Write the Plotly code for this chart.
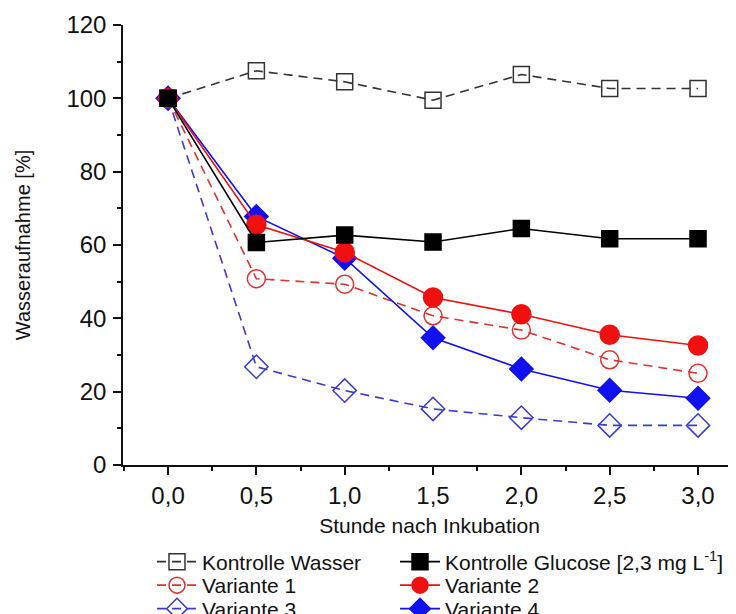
import plotly.graph_objects as go

hours = [0.0, 0.5, 1.0, 1.5, 2.0, 2.5, 3.0]
kontrolle_wasser = [100, 107.5, 104.5, 99.5, 106.5, 102.7, 102.7]
kontrolle_glucose = [100, 60.7, 62.7, 60.8, 64.5, 61.7, 61.7]
variante_1 = [100, 50.8, 49.3, 40.7, 36.8, 28.7, 25.0]
variante_2 = [100, 65.5, 58.0, 45.7, 41.1, 35.5, 32.6]
variante_3 = [100, 26.8, 20.3, 15.3, 12.9, 10.8, 10.8]
variante_4 = [100, 67.8, 56.4, 34.7, 26.2, 20.4, 18.2]

RED = "#f01010"
BLUE = "#1010f0"
BLUE_L = "#3a3ad4"

# page is rendered with an 8px body margin, figure sized to fit the window
W, H = 728, 606

series = [
    # name, values, color, dashed, symbol, size, legend id
    ("Variante 3", variante_3, BLUE_L, True, "diamond-open", 18, "legend5"),
    ("Variante 1", variante_1, "#e03030", True, "circle-open", 18, "legend3"),
    ("Kontrolle Wasser", kontrolle_wasser, "#333333", True, "square-open", 16, "legend"),
    ("Variante 4", variante_4, BLUE, False, "diamond", 18, "legend6"),
    ("Variante 2", variante_2, RED, False, "circle", 19, "legend4"),
    ("Kontrolle Glucose [2,3 mg L<sup>-1</sup>]", kontrolle_glucose, "#000000", False, "square", 16, "legend2"),
]

fig = go.Figure()
for name, vals, col, dashed, sym, size, leg in series:
    fig.add_trace(go.Scatter(
        x=hours, y=vals, name=name, mode="lines+markers",
        line=dict(color=col, width=1.6, dash="9px,6px" if dashed else "solid"),
        marker=dict(symbol=sym, size=size, color=col,
                    line=dict(color=col, width=1.5)),
        legend=leg,
    ))

def leg(px, py):
    return dict(
        orientation="h", yref="container", xref="container",
        x=px / W, y=1 - py / H, xanchor="left", yanchor="middle",
        font=dict(size=21, color="#111111"), itemwidth=40,
        bgcolor="rgba(0,0,0,0)", borderwidth=0,
    )

col1, col2 = 144, 387
rows = [554, 577.5, 601]

fig.update_layout(
    template="none",
    width=W, height=H,
    margin=dict(l=115, r=0, t=17, b=149),
    paper_bgcolor="white", plot_bgcolor="white",
    font=dict(family="Liberation Sans, Arial, sans-serif", color="#111111"),
    separators=", ",
    showlegend=True,
    legend=leg(col1, rows[0]),
    legend2=leg(col2, rows[0]),
    legend3=leg(col1, rows[1]),
    legend4=leg(col2, rows[1]),
    legend5=leg(col1, rows[2]),
    legend6=leg(col2, rows[2]),
    xaxis=dict(
        automargin=False,
        range=[-0.255, 3.215], tickvals=hours, tickformat=".1f",
        ticks="outside", ticklen=8, tickwidth=1.5, tickcolor="#111",
        showline=True, linecolor="#111", linewidth=1.5,
        showgrid=False, zeroline=False, ticklabelstandoff=0,
        minor=dict(dtick=0.25, tick0=0, ticks="outside", ticklen=4, tickwidth=1.5, tickcolor="#111", showgrid=False),
        tickfont=dict(size=24),
        title=dict(text="Stunde nach Inkubation", font=dict(size=21), standoff=11),
    ),
    yaxis=dict(
        automargin=False,
        range=[0, 120], dtick=20, tick0=0,
        ticks="outside", ticklen=8, tickwidth=1.5, tickcolor="#111",
        showline=True, linecolor="#111", linewidth=1.5,
        showgrid=False, zeroline=False, ticklabelstandoff=2,
        minor=dict(dtick=10, ticks="outside", ticklen=4, tickwidth=1.5, tickcolor="#111", showgrid=False),
        tickfont=dict(size=24),
        title=dict(text="Wasseraufnahme [%]", font=dict(size=20), standoff=30),
    ),
)

fig.write_html("out.html")
